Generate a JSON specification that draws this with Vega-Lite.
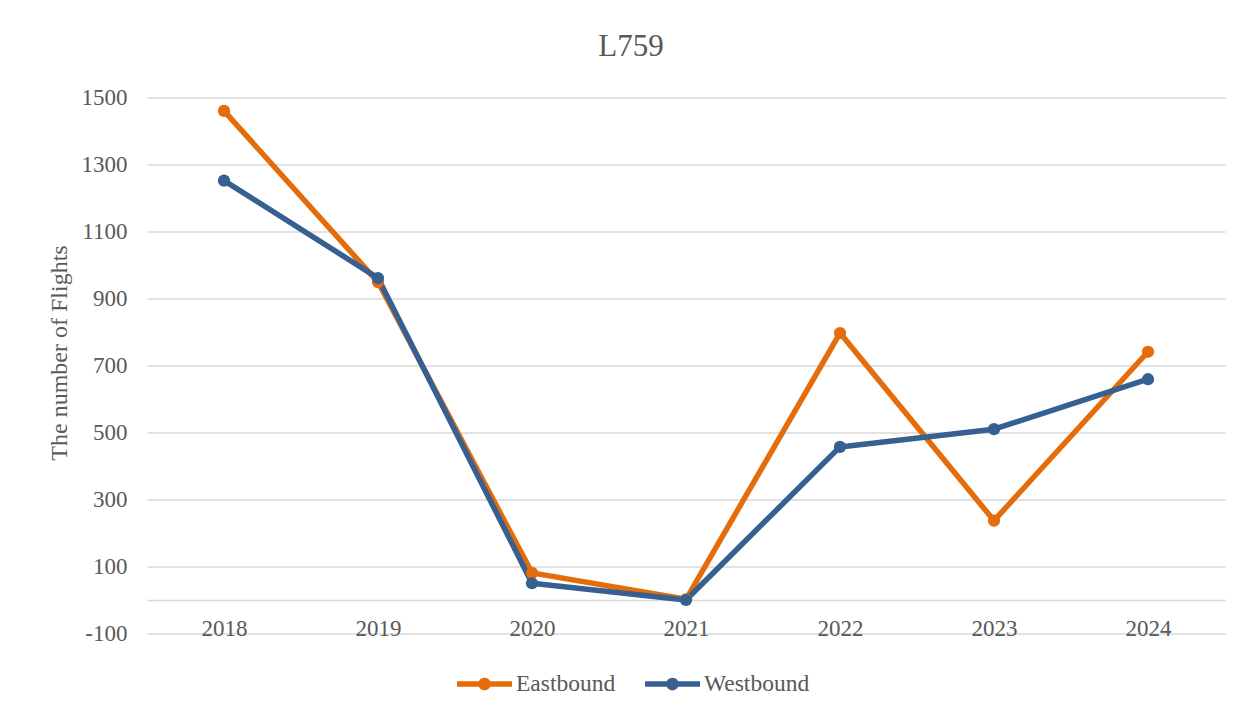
{
  "$schema": "https://vega.github.io/schema/vega-lite/v6.json",
  "width": 1078,
  "height": 536,
  "autosize": "none",
  "padding": {"left": 147, "top": 97.5, "right": 32, "bottom": 84.5},
  "background": "white",
  "title": {
    "text": "L759",
    "font": "Liberation Serif",
    "fontSize": 31,
    "fontWeight": "normal",
    "color": "#595959",
    "baseline": "alphabetic",
    "offset": 0,
    "dx": -55
  },
  "data": {
    "values": [
      {"year": "2018", "dir": "Eastbound", "flights": 1460},
      {"year": "2019", "dir": "Eastbound", "flights": 949},
      {"year": "2020", "dir": "Eastbound", "flights": 81},
      {"year": "2021", "dir": "Eastbound", "flights": 2},
      {"year": "2022", "dir": "Eastbound", "flights": 797},
      {"year": "2023", "dir": "Eastbound", "flights": 237},
      {"year": "2024", "dir": "Eastbound", "flights": 741},
      {"year": "2018", "dir": "Westbound", "flights": 1252},
      {"year": "2019", "dir": "Westbound", "flights": 961},
      {"year": "2020", "dir": "Westbound", "flights": 50},
      {"year": "2021", "dir": "Westbound", "flights": 0},
      {"year": "2022", "dir": "Westbound", "flights": 457},
      {"year": "2023", "dir": "Westbound", "flights": 510},
      {"year": "2024", "dir": "Westbound", "flights": 659}
    ]
  },
  "encoding": {
    "x": {
      "field": "year",
      "type": "ordinal",
      "scale": {"type": "point", "padding": 0.5},
      "axis": {
        "title": null,
        "orient": "bottom",
        "offset": -33.5,
        "labelAngle": 0,
        "ticks": false,
        "domainColor": "#d9d9d9",
        "domainWidth": 1.3,
        "labelPadding": 17,
        "labelFont": "Liberation Serif",
        "labelFontSize": 23,
        "labelColor": "#595959",
        "grid": false
      }
    },
    "y": {
      "field": "flights",
      "type": "quantitative",
      "scale": {"domain": [-100, 1500], "nice": false, "zero": false},
      "axis": {
        "title": "The number of Flights",
        "values": [-100, 100, 300, 500, 700, 900, 1100, 1300, 1500],
        "labelExpr": "'' + datum.value",
        "domain": false,
        "ticks": false,
        "grid": true,
        "gridColor": "#d9d9d9",
        "gridWidth": 1.3,
        "labelPadding": 20,
        "labelFont": "Liberation Serif",
        "labelFontSize": 23,
        "labelColor": "#595959",
        "titleFont": "Liberation Serif",
        "titleFontSize": 24,
        "titleFontWeight": "normal",
        "titleColor": "#595959",
        "titleX": -88,
        "titleY": 255,
        "titleBaseline": "middle",
        "titleAngle": -90
      }
    },
    "color": {
      "field": "dir",
      "type": "nominal",
      "scale": {"domain": ["Eastbound", "Westbound"], "range": ["#E46C0A", "#376092"]},
      "legend": {
        "title": null,
        "orient": "none",
        "direction": "horizontal",
        "legendX": 310,
        "legendY": 559,
        "symbolType": "M-1,-0.1H-0.2V0.1H-1ZM0.2,-0.1H1V0.1H0.2ZM-0.23,0A0.23,0.23,0,1,1,0.23,0A0.23,0.23,0,1,1,-0.23,0Z",
        "symbolSize": 3025,
        "symbolStrokeWidth": 0,
        "symbolOpacity": 1,
        "labelOffset": 4,
        "columnPadding": 29,
        "labelFont": "Liberation Serif",
        "labelFontSize": 23.5,
        "labelColor": "#595959",
        "labelLimit": 300
      }
    }
  },
  "layer": [
    {
      "mark": {"type": "line", "strokeWidth": 5.5, "strokeCap": "round", "strokeJoin": "round"}
    },
    {
      "mark": {"type": "point", "filled": true, "opacity": 1, "size": 150, "shape": "circle"}
    }
  ],
  "config": {
    "view": {"stroke": null}
  }
}
